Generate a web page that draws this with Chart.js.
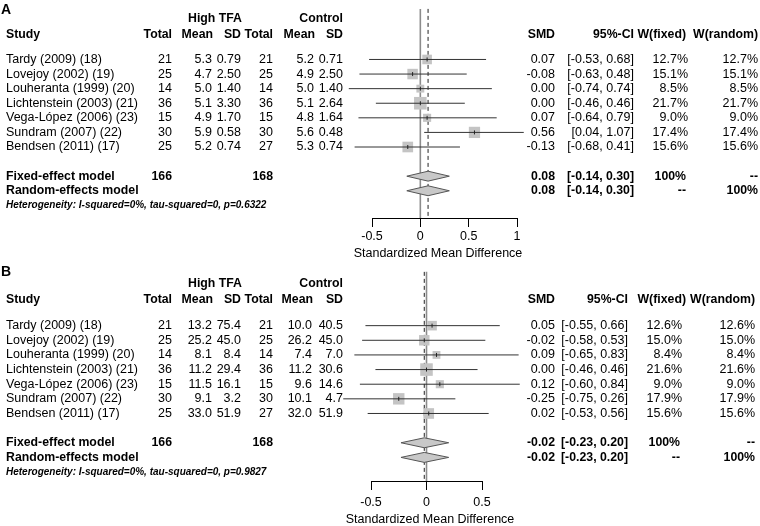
<!DOCTYPE html>
<html>
<head>
<meta charset="utf-8">
<script src="https://cdn.jsdelivr.net/npm/chart.js@4/dist/chart.umd.min.js"></script>
<style>
  body { margin: 0; background: #fff; }
  #wrap { position: relative; width: 760px; height: 526px; }
  canvas { position: absolute; left: 0; }
</style>
</head>
<body>
<div id="wrap">
  <canvas id="chartA" width="760" height="263" style="top:0"></canvas>
  <canvas id="chartB" width="760" height="263" style="top:263px"></canvas>
</div>
<script>
// studies (same for both panels)
const studies = ['Tardy (2009) (18)', 'Lovejoy (2002) (19)', 'Louheranta (1999) (20)',
  'Lichtenstein (2003) (21)', 'Vega-López (2006) (23)', 'Sundram (2007) (22)', 'Bendsen (2011) (17)'];

// Panel A
const highTotalA = [21, 25, 14, 36, 15, 30, 25];
const highMeanA = [5.3, 4.7, 5.0, 5.1, 4.9, 5.9, 5.2];
const highSdA = [0.79, 2.50, 1.40, 3.30, 1.70, 0.58, 0.74];
const ctrlTotalA = [21, 25, 14, 36, 15, 30, 27];
const ctrlMeanA = [5.2, 4.9, 5.0, 5.1, 4.8, 5.6, 5.3];
const ctrlSdA = [0.71, 2.50, 1.40, 2.64, 1.64, 0.48, 0.74];
const smdA = [0.07, -0.08, 0.00, 0.00, 0.07, 0.56, -0.13];
const ciLowA = [-0.53, -0.63, -0.74, -0.46, -0.64, 0.04, -0.68];
const ciHighA = [0.68, 0.48, 0.74, 0.46, 0.79, 1.07, 0.41];
const wFixedA = [12.7, 15.1, 8.5, 21.7, 9.0, 17.4, 15.6];
const wRandomA = [12.7, 15.1, 8.5, 21.7, 9.0, 17.4, 15.6];
const pooledA = [0.08, -0.14, 0.30]; // smd, low, high
const totalsA = [166, 168];
const ticksA = [-0.5, 0, 0.5, 1];
const hetA = 'Heterogeneity: I-squared=0%, tau-squared=0, p=0.6322';

// Panel B
const highTotalB = [21, 25, 14, 36, 15, 30, 25];
const highMeanB = [13.2, 25.2, 8.1, 11.2, 11.5, 9.1, 33.0];
const highSdB = [75.4, 45.0, 8.4, 29.4, 16.1, 3.2, 51.9];
const ctrlTotalB = [21, 25, 14, 36, 15, 30, 27];
const ctrlMeanB = [10.0, 26.2, 7.4, 11.2, 9.6, 10.1, 32.0];
const ctrlSdB = [40.5, 45.0, 7.0, 30.6, 14.6, 4.7, 51.9];
const smdB = [0.05, -0.02, 0.09, 0.00, 0.12, -0.25, 0.02];
const ciLowB = [-0.55, -0.58, -0.65, -0.46, -0.60, -0.75, -0.53];
const ciHighB = [0.66, 0.53, 0.83, 0.46, 0.84, 0.26, 0.56];
const wFixedB = [12.6, 15.0, 8.4, 21.6, 9.0, 17.9, 15.6];
const wRandomB = [12.6, 15.0, 8.4, 21.6, 9.0, 17.9, 15.6];
const pooledB = [-0.02, -0.23, 0.20];
const totalsB = [166, 168];
const ticksB = [-0.5, 0, 0.5];
const hetB = 'Heterogeneity: I-squared=0%, tau-squared=0, p=0.9827';

const xTitle = 'Standardized Mean Difference';
const FONT = '"Liberation Sans", Arial, sans-serif';
const ROW_FIXED = 8, ROW_RANDOM = 9, ROW_HET = 10;

function ci(lo, hi) { return '[' + lo.toFixed(2) + ', ' + hi.toFixed(2) + ']'; }

function makePanel(id, letter, d, lay) {
  const datasets = [];
  const n = d.smd.length;
  // null line
  datasets.push({ type: 'line', data: [{x: 0, y: lay.rowTop}, {x: 0, y: lay.rowAxis}],
    borderColor: '#8c8c8c', borderWidth: 1.6, pointRadius: 0, order: 10, clip: false });
  // pooled dashed line
  datasets.push({ type: 'line', data: [{x: d.pooled[0], y: lay.rowTop}, {x: d.pooled[0], y: lay.rowAxis}],
    borderColor: '#222', borderWidth: 1, borderDash: [4, 3], pointRadius: 0, order: 9, clip: false });
  // weight squares
  datasets.push({ type: 'scatter', data: d.smd.map((v, i) => ({x: v, y: i})), pointStyle: 'rect',
    pointRadius: d.wf.map(w => 2.7 * Math.sqrt(w) / Math.SQRT2), backgroundColor: '#c4c4c4',
    borderWidth: 0, order: 8, clip: false });
  // CI lines
  for (let i = 0; i < n; i++) {
    datasets.push({ type: 'line', data: [{x: d.lo[i], y: i}, {x: d.hi[i], y: i}],
      borderColor: '#333', borderWidth: 1, pointRadius: 0, order: 7, clip: false });
  }
  // point estimate ticks
  datasets.push({ type: 'scatter', data: d.smd.map((v, i) => ({x: v, y: i})), pointStyle: 'line',
    rotation: 90, pointRadius: 2, borderColor: '#222', borderWidth: 1, order: 6, clip: false });
  // diamonds
  [ROW_FIXED, ROW_RANDOM].forEach(r => {
    const h = 0.34;
    datasets.push({ type: 'line', fill: 'shape', tension: 0,
      data: [{x: d.pooled[1], y: r}, {x: d.pooled[0], y: r - h}, {x: d.pooled[2], y: r},
             {x: d.pooled[0], y: r + h}, {x: d.pooled[1], y: r}],
      backgroundColor: '#c8c8c8', borderColor: '#555', borderWidth: 1, pointRadius: 0, order: 5, clip: false });
  });

  const textPlugin = {
    id: 'tables',
    afterDraw(chart) {
      const ctx = chart.ctx;
      const py = r => chart.scales.y.getPixelForValue(r);
      const c = lay.cols;
      const put = (txt, x, r, align, font) => {
        ctx.font = font; ctx.textAlign = align; ctx.fillText(txt, x, py(r));
      };
      ctx.save();
      ctx.fillStyle = '#000';
      ctx.textBaseline = 'middle';
      const reg = '12.5px ' + FONT, bold = 'bold 12.3px ' + FONT;
      put(letter, 1, lay.rowLabel, 'left', 'bold 14px ' + FONT);
      put('High TFA', c.hiSd + 1, lay.rowGroup, 'right', bold);
      put('Control', c.ctSd, lay.rowGroup, 'right', bold);
      const hr = lay.rowHead;
      put('Study', c.name, hr, 'left', bold);
      put('Total', c.hiN, hr, 'right', bold);
      put('Mean', c.hiMean + 1, hr, 'right', bold);
      put('SD', c.hiSd, hr, 'right', bold);
      put('Total', c.ctN, hr, 'right', bold);
      put('Mean', c.ctMean + 1, hr, 'right', bold);
      put('SD', c.ctSd, hr, 'right', bold);
      put('SMD', c.smd, hr, 'right', bold);
      put('95%-CI', c.ci, hr, 'right', bold);
      put('W(fixed)', c.wfHead, hr, 'right', bold);
      put('W(random)', c.wr, hr, 'right', bold);
      for (let i = 0; i < studies.length; i++) {
        put(studies[i], c.name, i, 'left', reg);
        put(String(d.hiN[i]), c.hiN, i, 'right', reg);
        put(d.hiMean[i].toFixed(1), c.hiMean, i, 'right', reg);
        put(d.hiSd[i].toFixed(d.sdDigits), c.hiSd, i, 'right', reg);
        put(String(d.ctN[i]), c.ctN, i, 'right', reg);
        put(d.ctMean[i].toFixed(1), c.ctMean, i, 'right', reg);
        put(d.ctSd[i].toFixed(d.sdDigits), c.ctSd, i, 'right', reg);
        put(d.smd[i].toFixed(2), c.smd, i, 'right', reg);
        put(ci(d.lo[i], d.hi[i]), c.ci, i, 'right', reg);
        put(d.wf[i].toFixed(1) + '%', c.wf, i, 'right', reg);
        put(d.wr[i].toFixed(1) + '%', c.wr, i, 'right', reg);
      }
      put('Fixed-effect model', c.name, ROW_FIXED, 'left', bold);
      put(String(d.totals[0]), c.hiN, ROW_FIXED, 'right', bold);
      put(String(d.totals[1]), c.ctN, ROW_FIXED, 'right', bold);
      put('Random-effects model', c.name, ROW_RANDOM, 'left', bold);
      [ROW_FIXED, ROW_RANDOM].forEach((r, k) => {
        put(d.pooled[0].toFixed(2), c.smd, r, 'right', bold);
        put(ci(d.pooled[1], d.pooled[2]), c.ci, r, 'right', bold);
        put(k === 0 ? '100%' : '--', c.wf - 2, r, 'right', bold);
        put(k === 0 ? '--' : '100%', c.wr, r, 'right', bold);
      });
      put(d.het, c.name, lay.rowHet, 'left', 'italic bold 10px ' + FONT);
      // axis title (Chart.js squeezes scale titles to the axis width, so drawn here)
      ctx.font = '12.5px ' + FONT;
      ctx.textAlign = 'center';
      ctx.fillText(xTitle, lay.titleX, lay.titleY);
      ctx.restore();
    }
  };

  return new Chart(document.getElementById(id), {
    type: 'line',
    data: { datasets },
    plugins: [textPlugin],
    options: {
      responsive: false,
      animation: false,
      events: [],
      layout: { padding: lay.padding },
      plugins: { legend: { display: false }, tooltip: { enabled: false } },
      scales: {
        x: {
          type: 'linear', min: d.ticks[0], max: d.ticks[d.ticks.length - 1],
          afterBuildTicks: s => { s.ticks = d.ticks.map(v => ({value: v})); },
          afterFit: s => { s.height = 45; },
          grid: { drawOnChartArea: false, drawTicks: true, tickLength: 9, color: '#000', lineWidth: 1 },
          border: { display: true, color: '#000', width: 1 },
          ticks: { color: '#000', font: { family: FONT, size: 12.5 }, padding: lay.tickPad, maxRotation: 0,
            callback: v => String(v) },
          title: { display: false }
        },
        y: { type: 'linear', display: false, reverse: true, min: lay.rowTop, max: lay.rowAxis }
      }
    }
  });
}

// panel A: chart area 3..218 px, rows from 55 px with 15 px step
makePanel('chartA', 'A',
  { hiN: highTotalA, hiMean: highMeanA, hiSd: highSdA, ctN: ctrlTotalA, ctMean: ctrlMeanA, ctSd: ctrlSdA,
    smd: smdA, lo: ciLowA, hi: ciHighA, wf: wFixedA, wr: wRandomA, pooled: pooledA, totals: totalsA,
    ticks: ticksA, het: hetA, sdDigits: 2 },
  { rowTop: (3 - 55) / 15, rowAxis: (218 - 55) / 15, rowLabel: (4 - 55) / 15, rowGroup: (13 - 55) / 15,
    rowHead: (29 - 55) / 15, rowHet: ROW_HET, tickPad: 2, titleX: 438, titleY: 254,
    padding: { left: 372, right: 243, top: 3, bottom: 0 },
    cols: { name: 6, hiN: 172, hiMean: 212, hiSd: 241, ctN: 273, ctMean: 314, ctSd: 343,
            smd: 555, ci: 634, wf: 688, wfHead: 686, wr: 758 } });

// panel B: chart area 8..218 px (local), rows from 62 px with 14.7 px step
makePanel('chartB', 'B',
  { hiN: highTotalB, hiMean: highMeanB, hiSd: highSdB, ctN: ctrlTotalB, ctMean: ctrlMeanB, ctSd: ctrlSdB,
    smd: smdB, lo: ciLowB, hi: ciHighB, wf: wFixedB, wr: wRandomB, pooled: pooledB, totals: totalsB,
    ticks: ticksB, het: hetB, sdDigits: 1 },
  { rowTop: (8 - 62) / 14.7, rowAxis: (218 - 62) / 14.7, rowLabel: (8 - 62) / 14.7, rowGroup: (20 - 62) / 14.7,
    rowHead: (36 - 62) / 14.7, rowHet: ROW_HET, tickPad: 5, titleX: 430, titleY: 257,
    padding: { left: 371, right: 278, top: 8, bottom: 0 },
    cols: { name: 6, hiN: 172, hiMean: 212, hiSd: 241, ctN: 273, ctMean: 312, ctSd: 343,
            smd: 555, ci: 628, wf: 682, wfHead: 686, wr: 755 } });
</script>
</body>
</html>
